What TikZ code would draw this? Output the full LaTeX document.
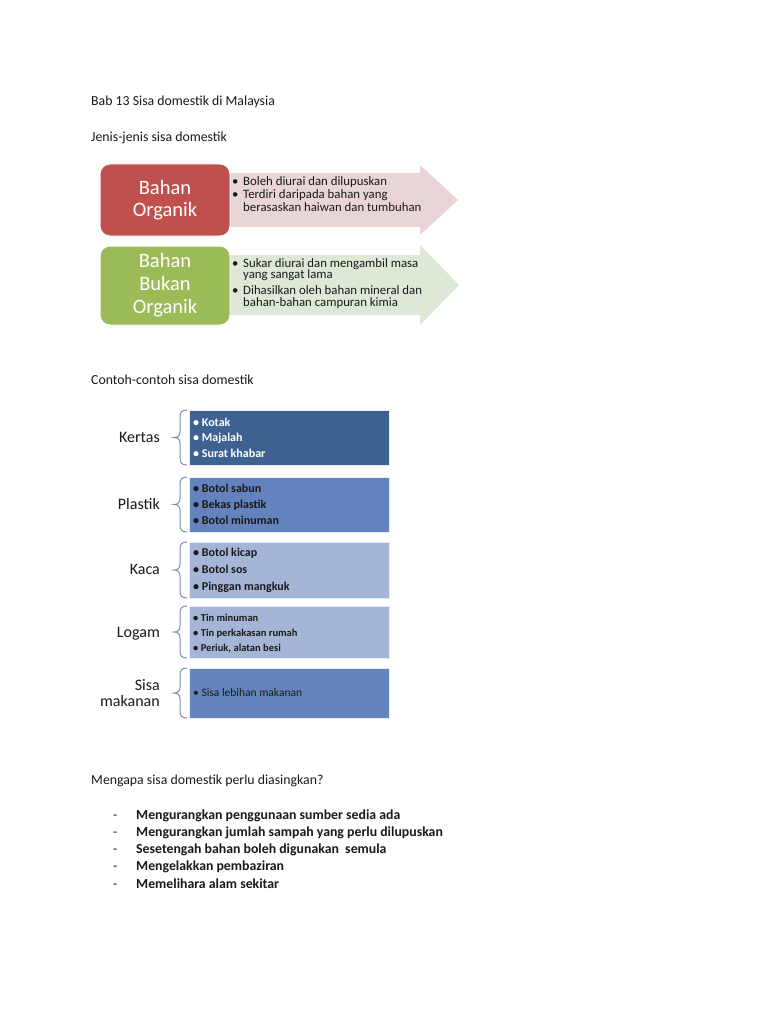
\documentclass[tikz,border=0pt]{standalone}
\usepackage{fontspec}
\setmainfont{Carlito}
\definecolor{orgred}{HTML}{C0504D}
\definecolor{orggreen}{HTML}{9BBB59}
\definecolor{arrred}{HTML}{E9D5D5}
\definecolor{arrgreen}{HTML}{DDE8D7}
\definecolor{bdark}{HTML}{3D6291}
\definecolor{bmid}{HTML}{6283BE}
\definecolor{blight}{HTML}{A5B5D7}
\definecolor{bsisa}{HTML}{6385BC}
\definecolor{bracecol}{HTML}{7F90AC}
\definecolor{txt}{HTML}{1A1A1A}
\newcommand{\fsz}[1]{\fontsize{#1}{#1}\selectfont}
\begin{document}
\begin{tikzpicture}[x=1pt,y=-1pt,
  heading/.style={anchor=base west,inner sep=0,text=txt,font=\fsz{13.8}},
  listitem/.style={anchor=base west,inner sep=0,text=txt,font=\fsz{13.8}\bfseries},
  dashmark/.style={anchor=base west,inner sep=0,text=txt,font=\fsz{13.8}},
  bigbox/.style={draw=white,line width=1,rounded corners=10,text=white,align=center,
     font=\fsz{20.5},minimum width=130,inner sep=0},
  arrtext/.style={anchor=base west,inner sep=0,text=txt,font=\fsz{12.8}},
  catlabel/.style={anchor=base east,inner sep=0,text=txt,font=\fsz{16}},
  catbox/.style={draw=white!80!blue!40,line width=1,minimum width=200,inner sep=0},
  itemb/.style={anchor=base west,inner sep=0,font=\fsz{12}\bfseries},
  itemlog/.style={anchor=base west,inner sep=0,font=\fsz{10.5}\bfseries,text=txt},
  bracepath/.style={draw=bracecol,line width=1}
]
\useasboundingbox (0,0) rectangle (768,1024);
\fill[white] (0,0) rectangle (768,1024);

% headings
\node[heading] (title) at (91,106) {Bab 13 Sisa domestik di Malaysia};
\node[heading] (jenis) at (91,142) {Jenis-jenis sisa domestik};

% arrows
\fill[arrred] (226,173) -- (420,173) -- (420,165) -- (458,200) -- (420,235) -- (420,227) -- (226,227) -- cycle;
\fill[arrgreen] (226,255) -- (420,255) -- (420,245) -- (459,285) -- (420,325) -- (420,315) -- (226,315) -- cycle;

% boxes
\node[bigbox,fill=orgred,minimum height=72] (org) at (165,200) {Bahan\\[2pt]Organik};
\node[bigbox,fill=orggreen,minimum height=79] (bukan) at (165,285.5) {Bahan\\[2.5pt]Bukan\\[2.5pt]Organik};

% arrow texts
\node[arrtext] (rb1) at (232,186) {•};
\node[arrtext] (rt1) at (243,186) {Boleh diurai dan dilupuskan};
\node[arrtext] (rb2) at (232,199) {•};
\node[arrtext] (rt2) at (243,199) {Terdiri daripada bahan yang};
\node[arrtext] (rt3) at (243,212) {berasaskan haiwan dan tumbuhan};

\node[arrtext] (gb1) at (232,267) {•};
\node[arrtext] (gt1) at (243,267) {Sukar diurai dan mengambil masa};
\node[arrtext] (gt2) at (243,278) {yang sangat lama};
\node[arrtext] (gb2) at (232,294) {•};
\node[arrtext] (gt3) at (243,294) {Dihasilkan oleh bahan mineral dan};
\node[arrtext] (gt4) at (243,306) {bahan-bahan campuran kimia};

% contoh section
\node[heading] (contoh) at (91,384) {Contoh-contoh sisa domestik};

\node[catbox,fill=bdark,minimum height=55,anchor=north west] (kertasbox) at (189,410) {};
\node[catbox,fill=bmid,minimum height=55,anchor=north west] (plastikbox) at (189,477) {};
\node[catbox,fill=blight,minimum height=56,anchor=north west] (kacabox) at (189,542) {};
\node[catbox,fill=blight,minimum height=52,anchor=north west] (logambox) at (189,606) {};
\node[catbox,fill=bsisa,minimum height=50,anchor=north west] (sisabox) at (189,668) {};

\node[catlabel] (kertas) at (160,442) {Kertas};
\node[catlabel] (plastik) at (160,509) {Plastik};
\node[catlabel] (kaca) at (160,574) {Kaca};
\node[catlabel] (logam) at (160,637) {Logam};
\node[catlabel] (sisa1) at (160,690) {Sisa};
\node[catlabel] (sisa2) at (160,706) {makanan};

% braces
\newcommand{\mybrace}[2]{%
  \draw[bracepath] (187,#1) .. controls (182,#1) and (180,#1+2) .. (180,#1+7)
   -- (180,{(#1+#2)/2-6}) .. controls (180,{(#1+#2)/2-2}) and (178,{(#1+#2)/2}) .. (174,{(#1+#2)/2})
   .. controls (178,{(#1+#2)/2}) and (180,{(#1+#2)/2+2}) .. (180,{(#1+#2)/2+6})
   -- (180,#2-7) .. controls (180,#2-2) and (182,#2) .. (187,#2);}
\mybrace{410}{465}
\mybrace{477}{532}
\mybrace{542}{598}
\mybrace{606}{658}
\mybrace{668}{718}

% items
\node[itemb,text=white] (k1) at (193,426) {• Kotak};
\node[itemb,text=white] (k2) at (193,441.5) {• Majalah};
\node[itemb,text=white] (k3) at (193,457.5) {• Surat khabar};
\node[itemb,text=txt] (p1) at (193,492.5) {• Botol sabun};
\node[itemb,text=txt] (p2) at (193,508.5) {• Bekas plastik};
\node[itemb,text=txt] (p3) at (193,524) {• Botol minuman};
\node[itemb,text=txt] (c1) at (193,556.5) {• Botol kicap};
\node[itemb,text=txt] (c2) at (193,573.5) {• Botol sos};
\node[itemb,text=txt] (c3) at (193,590.5) {• Pinggan mangkuk};
\node[itemlog] (l1) at (193,621) {• Tin minuman};
\node[itemlog] (l2) at (193,636) {• Tin perkakasan rumah};
\node[itemlog] (l3) at (193,651.5) {• Periuk, alatan besi};
\node[anchor=base west,inner sep=0,font=\fsz{11.5},text=txt] (s1) at (193,696) {• Sisa lebihan makanan};

% reasons
\node[heading] (mengapa) at (91,784) {Mengapa sisa domestik perlu diasingkan?};
\node[dashmark] (d1) at (113,819) {-};
\node[listitem] (i1) at (136,819) {Mengurangkan penggunaan sumber sedia ada};
\node[dashmark] (d2) at (113,836) {-};
\node[listitem] (i2) at (136,836) {Mengurangkan jumlah sampah yang perlu dilupuskan};
\node[dashmark] (d3) at (113,853) {-};
\node[listitem] (i3) at (136,853) {Sesetengah bahan boleh digunakan\ \ semula};
\node[dashmark] (d4) at (113,870) {-};
\node[listitem] (i4) at (136,870) {Mengelakkan pembaziran};
\node[dashmark] (d5) at (113,888) {-};
\node[listitem] (i5) at (136,888) {Memelihara alam sekitar};
\end{tikzpicture}
\end{document}
